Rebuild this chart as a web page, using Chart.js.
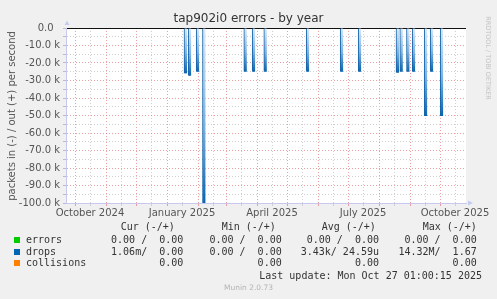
<!DOCTYPE html>
<html><head><meta charset="utf-8">
<script src="https://cdn.jsdelivr.net/npm/chart.js@4/dist/chart.umd.min.js"></script>
<style>
html,body{margin:0;padding:0;background:#f0f0f0;}
#wrap{position:relative;width:497px;height:299px;overflow:hidden;background:#f0f0f0;}
#c{position:absolute;left:0;top:0;}
.t{position:absolute;white-space:pre;font-family:'DejaVu Sans';}
.m{position:absolute;white-space:pre;font-family:'DejaVu Sans Mono';font-size:10px;line-height:12px;color:#333;}
</style></head><body>
<div id="wrap"><canvas id="c" width="497" height="299"></canvas></div>
<script>
// ---- data (x = days since 2024-09-22, graph spans 400 days) ----
const dropDays   = [119.5, 123.7, 131.7, 138, 179.3, 187.7, 199.3, 241.7, 275.7, 293.7, 331.5, 335.3, 342, 347.7, 359.7, 365.7, 375.7];
const dropValues = [-26000, -27300, -25000, -100000, -25000, -25000, -25000, -25000, -25000, -25000, -25500, -25000, -25000, -25000, -50300, -25000, -50300];
const monthStartDays = [9, 40, 70, 101, 132, 160, 191, 221, 252, 282, 313, 344, 374];
const midMonthDays   = [24, 55, 85, 116, 147, 175, 206, 236, 267, 297, 328, 359, 389];
const xLabelDays = [24, 116, 206, 297, 389];
const xLabels = ['October 2024', 'January 2025', 'April 2025', 'July 2025', 'October 2025'];
const yTickValues = [0, -5000, -10000, -15000, -20000, -25000, -30000, -35000, -40000, -45000, -50000,
  -55000, -60000, -65000, -70000, -75000, -80000, -85000, -90000, -95000, -100000];
const legendNames  = ['errors', 'drops', 'collisions'];
const legendColors = ['#00cc00', '#0066b3', '#ff8000'];
const legendHeaders = ['Cur (-/+)', 'Min (-/+)', 'Avg (-/+)', 'Max (-/+)'];
const curValues = ['0.00 /  0.00', '1.06m/  0.00', '0.00'];
const minValues = ['0.00 /  0.00', '0.00 /  0.00', '0.00'];
const avgValues = ['0.00 /  0.00', '3.43k/ 24.59u', '0.00'];
const maxValues = ['0.00 /  0.00', '14.32M/  1.67', '0.00'];
const lastUpdate = 'Last update: Mon Oct 27 01:00:15 2025';

// ---- chart ----
Chart.defaults.font.family = 'DejaVu Sans';
const RED = 'rgba(226,110,110,0.65)';
const GRAY = '#cfcfcf';
const AXIS = '#c8c8ee';

const bgPlugin = {
  id: 'bg',
  beforeDraw(chart) {
    const {ctx, chartArea: a} = chart;
    ctx.save(); ctx.fillStyle = '#ffffff';
    ctx.fillRect(a.left, a.top, a.right - a.left, a.bottom - a.top);
    ctx.restore();
  },
  afterDraw(chart) {
    const {ctx, chartArea: a} = chart;
    ctx.save(); ctx.fillStyle = '#c4cbf2';
    ctx.beginPath(); ctx.moveTo(a.left + 1, a.top - 7.5); ctx.lineTo(a.left - 1.5, a.top - 3); ctx.lineTo(a.left + 3.5, a.top - 3); ctx.closePath(); ctx.fill();
    ctx.beginPath(); ctx.moveTo(a.right + 7, a.bottom); ctx.lineTo(a.right + 2, a.bottom - 2.5); ctx.lineTo(a.right + 2, a.bottom + 2.5); ctx.closePath(); ctx.fill();
    ctx.restore();
  }
};

function barFill(c) {
  const chart = c.chart;
  if (!chart.chartArea || !chart.scales.y || !c.raw) return '#0066b3';
  const y0 = chart.scales.y.getPixelForValue(0);
  const y1 = chart.scales.y.getPixelForValue(c.raw.y);
  const g = chart.ctx.createLinearGradient(0, y0, 0, y1);
  g.addColorStop(0, '#dbe9f6');
  g.addColorStop(0.55, '#7fb3e0');
  g.addColorStop(1, '#0a63ad');
  return g;
}

function fmtY(v) {
  if (v === 0) return '0.0  ';
  return (v / 1000).toFixed(1) + ' k';
}

new Chart(document.getElementById('c'), {
  type: 'bar',
  data: {
    datasets: [{
      label: 'drops',
      data: dropDays.map((d, i) => ({x: d, y: dropValues[i]})),
      barThickness: 3,
      backgroundColor: barFill,
      borderColor: '#1464aa',
      borderWidth: {left: 1, right: 0, top: 0, bottom: 0},
      borderSkipped: false
    }]
  },
  plugins: [bgPlugin],
  options: {
    responsive: false, animation: false, devicePixelRatio: 1,
    layout: {padding: {top: 28, left: 0, right: 31, bottom: 74}},
    plugins: {legend: {display: false}, tooltip: {enabled: false}, title: {display: false}},
    scales: {
      x: {
        type: 'linear', min: 0, max: 400, offset: false,
        afterFit: s => { s.height = 22; },
        afterBuildTicks: s => {
          s.ticks = [...monthStartDays, ...midMonthDays].sort((a, b) => a - b).map(v => ({value: v}));
        },
        ticks: {
          autoSkip: false, maxRotation: 0, minRotation: 0, padding: 1, color: '#555',
          font: {size: 10},
          callback: v => { const i = xLabelDays.indexOf(v); return i >= 0 ? xLabels[i] : ''; }
        },
        grid: {
          offset: false, lineWidth: 1, tickLength: 3,
          color: c => monthStartDays.includes(c.tick.value) ? RED : GRAY,
          tickColor: c => monthStartDays.includes(c.tick.value) ? RED : GRAY
        },
        border: {color: AXIS, width: 1, dash: [1, 2]}
      },
      y: {
        min: -100000, max: 0,
        afterFit: s => { s.width = 66; },
        afterBuildTicks: s => { s.ticks = yTickValues.map(v => ({value: v})); },
        ticks: {
          padding: 3, color: '#555', font: {size: 10}, autoSkip: false,
          callback: v => (v % 10000 === 0 ? fmtY(v) : '')
        },
        grid: {
          lineWidth: 1, tickLength: 3,
          color: c => c.tick.value === 0 ? '#111' : (c.tick.value % 10000 === 0 ? RED : GRAY),
          tickColor: '#b8b8d8'
        },
        border: {color: AXIS, width: 1, dash: c => (c.tick && c.tick.value === 0 ? [] : [1, 2])}
      }
    }
  }
});

// ---- texts ----
const wrap = document.getElementById('wrap');
function add(cls, text, css) {
  const d = document.createElement('div');
  d.className = cls; d.textContent = text;
  Object.assign(d.style, css);
  wrap.appendChild(d);
  return d;
}
add('t', 'tap902i0 errors - by year', {left: '0px', width: '497px', textAlign: 'center', top: '11px', fontSize: '12px', lineHeight: '14px', color: '#333'});
add('t', 'packets in (-) / out (+) per second', {left: '-88px', width: '200px', textAlign: 'center', top: '110px', fontSize: '10px', lineHeight: '12px', color: '#555', transform: 'rotate(-90deg)'});
add('t', 'RRDTOOL / TOBI OETIKER', {left: '438px', width: '100px', textAlign: 'center', top: '54px', fontSize: '6.5px', lineHeight: '8px', color: '#c4c4c4', transform: 'rotate(90deg)'});
add('t', 'Munin 2.0.73', {left: '0px', width: '497px', textAlign: 'center', top: '283px', fontSize: '7.5px', lineHeight: '10px', color: '#b4b4b4'});

const headerLeft = [120.7, 221.7, 321.7, 422.7];
legendHeaders.forEach((h, i) => add('m', h, {left: headerLeft[i] + 'px', top: '221px'}));
const rowTop = [233.7, 245.7, 257.3];
const colRight = [183.3, 281.7, 379, 476.7];
const cols = [curValues, minValues, avgValues, maxValues];
legendNames.forEach((n, r) => {
  const sq = document.createElement('div');
  Object.assign(sq.style, {position: 'absolute', left: '14px', top: (rowTop[r] + 3) + 'px', width: '6px', height: '6px', background: legendColors[r]});
  wrap.appendChild(sq);
  add('m', n, {left: '26px', top: rowTop[r] + 'px'});
  cols.forEach((col, k) => add('m', col[r], {right: (497 - colRight[k]) + 'px', top: rowTop[r] + 'px', textAlign: 'right'}));
});
add('m', lastUpdate, {right: '15px', top: '269.5px', textAlign: 'right'});
</script>
</body></html>
